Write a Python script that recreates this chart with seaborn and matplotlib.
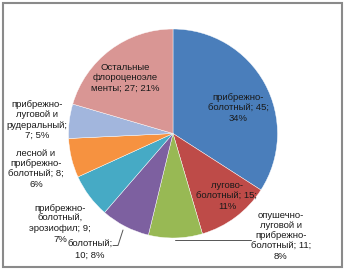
import matplotlib
matplotlib.use("Agg")
import matplotlib.pyplot as plt
import seaborn as sns
from matplotlib.patches import Rectangle
from matplotlib.lines import Line2D

sns.set_style("white")
plt.rcParams['font.family'] = ['Liberation Sans', 'DejaVu Sans']

categories = [
    "прибрежно-болотный",
    "лугово-болотный",
    "опушечно-луговой и прибрежно-болотный",
    "болотный",
    "прибрежно-болотный, эрозиофил",
    "лесной и прибрежно-болотный",
    "прибрежно-луговой и рудеральный",
    "Остальные флороценоэлементы",
]
values = [45, 15, 11, 10, 9, 8, 7, 27]
# label text pieces as shown in the chart (wrapped as in the reference)
label_texts = [
    ["прибрежно-\nболотный; 45;\n34%"],
    ["лугово-\nболотный; 15;\n11%"],
    ["опушечно-\nлуговой и\nприбрежно-\nболотный; 11;\n8%"],
    ["болотный;\n10; 8%"],
    ["прибрежно-\nболотный,\nэрозиофил; 9;", "7%"],
    ["лесной и\nприбрежно-\nболотный; 8;\n6%"],
    ["прибрежно-\nлуговой и\nрудеральный;\n7; 5%"],
    ["Остальные\nфлороценоэле\nменты; 27; 21%"],
]
colors = ["#4A7EBB", "#BE4B48", "#98B954", "#7D60A0",
          "#46AAC5", "#F69240", "#A2B6DD", "#D99694"]

W, H = 344, 269
fig = plt.figure(figsize=(W / 100, H / 100), dpi=100)
fig.patch.set_facecolor("white")

cx, cy, r = 173, 133.5, 104.5
ax = fig.add_axes([(cx - r) / W, (H - cy - r) / H, 2 * r / W, 2 * r / H])
ax.pie(values, colors=colors, startangle=90, counterclock=False,
       wedgeprops=dict(edgecolor="white", linewidth=0.3))
ax.set_xlim(-1, 1)
ax.set_ylim(-1, 1)
ax.set_aspect("equal")
ax.axis("off")

# label piece centers in pixel coordinates (from top-left)
label_pos = [[(238, 108)], [(227, 196)], [(281, 236)], [(90, 250)],
             [(60, 218.5), (60, 240)], [(36, 169)], [(37, 120)], [(125, 78)]]
for pieces, positions in zip(label_texts, label_pos):
    for txt, (px, py) in zip(pieces, positions):
        fig.text(px / W, 1 - py / H, txt, ha="center", va="center",
                 fontsize=6.8, color="#1a1a1a", linespacing=1.2)

def fx(px):
    return px / W

def fy(py):
    return 1 - py / H

# leader lines
fig.add_artist(Line2D([fx(113), fx(118), fx(123)], [fy(245.5), fy(245.5), fy(230)],
                      color="#555555", lw=0.7))
fig.add_artist(Line2D([fx(175), fx(251)], [fy(240), fy(240)],
                      color="#555555", lw=0.7))

# outer frame
fig.add_artist(Rectangle((fx(2.5), fy(266.5)), (339.5) / W, 264 / H,
                         transform=fig.transFigure, fill=False,
                         edgecolor="#8a8a8a", lw=1.5))

fig.savefig("out.png", dpi=100)
